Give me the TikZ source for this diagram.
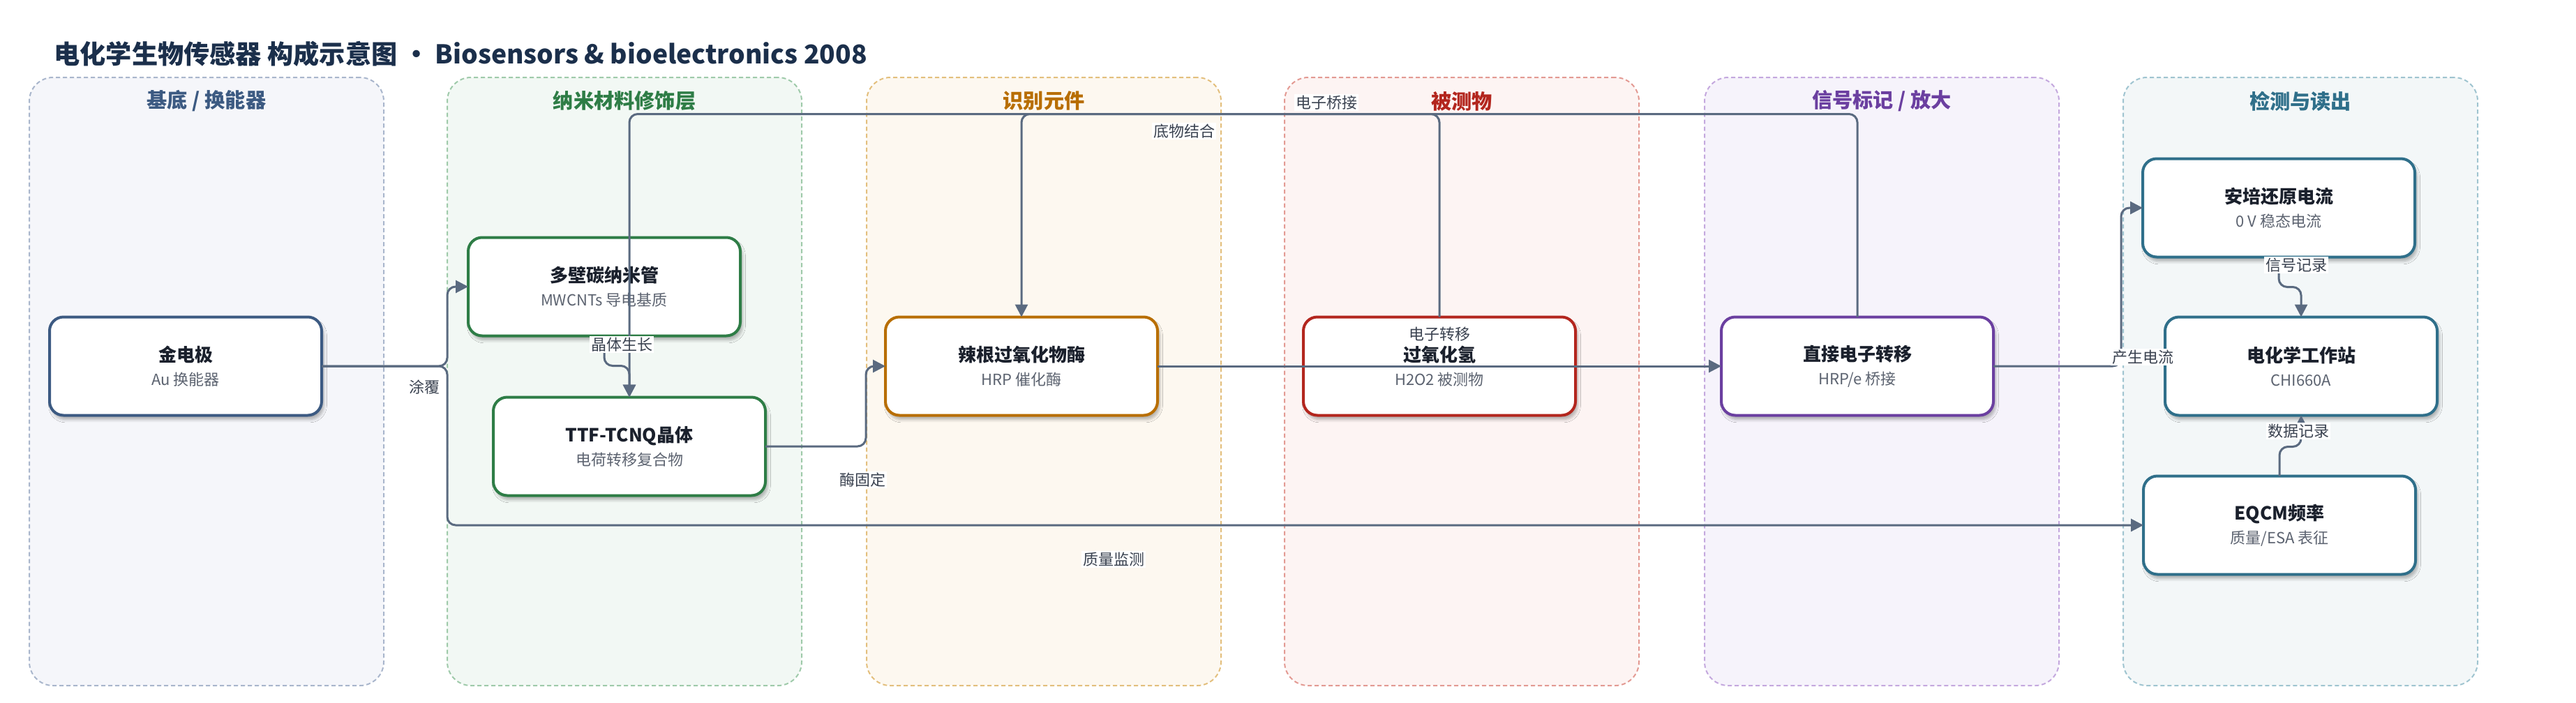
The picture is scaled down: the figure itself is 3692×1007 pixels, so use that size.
\documentclass[tikz,border=0pt]{standalone}
\usepackage{fontspec}
\setmainfont{Noto Sans CJK SC}
\usepackage{tikz}
\usetikzlibrary{positioning,arrows.meta,shadows.blur}

\definecolor{titlenavy}{HTML}{1B2F4B}
\definecolor{edgegrey}{HTML}{5A6A80}
\definecolor{lblgrey}{HTML}{3A4250}
\definecolor{subgrey}{HTML}{5C6370}
\definecolor{darktext}{HTML}{1A202C}
% lane colours
\definecolor{subfill}{HTML}{F5F6FA}\definecolor{subline}{HTML}{A9B6CC}\definecolor{subtext}{HTML}{3C5A82}
\definecolor{nanofill}{HTML}{F2F8F4}\definecolor{nanoline}{HTML}{9FCAAA}\definecolor{nanotext}{HTML}{2E7D46}
\definecolor{recfill}{HTML}{FDF8F0}\definecolor{recline}{HTML}{E3BF7D}\definecolor{rectext}{HTML}{B86E00}
\definecolor{anafill}{HTML}{FDF4F3}\definecolor{analine}{HTML}{E39A93}\definecolor{anatext}{HTML}{B3261E}
\definecolor{sigfill}{HTML}{F6F3FB}\definecolor{sigline}{HTML}{C4A8DE}\definecolor{sigtext}{HTML}{6B3FA0}
\definecolor{detfill}{HTML}{F3F7F8}\definecolor{detline}{HTML}{9FC4D0}\definecolor{dettext}{HTML}{2F6F8A}

\tikzset{
    lane/.style={rectangle,rounded corners=17pt,line width=1pt,dash pattern=on 3pt off 2pt,minimum width=254pt,minimum height=436pt},
    lanetitle/.style={font=\bfseries\fontsize{14.6}{16}\selectfont},
    stage/.style={rectangle,rounded corners=10pt,fill=white,line width=2pt,minimum width=195pt,minimum height=70.5pt,inner sep=0pt,outer sep=0pt,align=center,text=darktext,font=\fontsize{11}{17}\selectfont,blur shadow={shadow xshift=1.5pt,shadow yshift=-3pt,shadow blur steps=6,shadow opacity=30}},
    flow/.style={draw=edgegrey,line width=1.5pt,rounded corners=6pt,-{Triangle[length=9pt,width=9pt]}},
    lbl/.style={fill=white,inner sep=1pt,text=lblgrey,font=\fontsize{11}{13}\selectfont},
}
\newcommand{\stagetext}[2]{{\bfseries\fontsize{13}{16}\selectfont #1}\\{\color{subgrey}#2}}

\begin{document}
\begin{tikzpicture}[x=0.5pt,y=-0.5pt]
\useasboundingbox (0,0) rectangle (3692,1007);
\node[anchor=west,inner sep=0pt,text=titlenavy,font=\bfseries\fontsize{18.6}{22}\selectfont](title) at (77,77) {电化学生物传感器 构成示意图 • Biosensors \& bioelectronics 2008};

% lanes
\node[lane,fill=subfill,draw=subline](lane1) at (296,547) {};
\node[lane,fill=nanofill,draw=nanoline](lane2) at (895,547) {};
\node[lane,fill=recfill,draw=recline](lane3) at (1496,547) {};
\node[lane,fill=anafill,draw=analine](lane4) at (2095,547) {};
\node[lane,fill=sigfill,draw=sigline](lane5) at (2697,547) {};
\node[lane,fill=detfill,draw=detline](lane6) at (3297,547) {};
\node[lanetitle,text=subtext] at (296,145) {基底 / 换能器};
\node[lanetitle,text=nanotext] at (895,145) {纳米材料修饰层};
\node[lanetitle,text=rectext] at (1496,145) {识别元件};
\node[lanetitle,text=anatext] at (2095,145) {被测物};
\node[lanetitle,text=sigtext] at (2697,145) {信号标记 / 放大};
\node[lanetitle,text=dettext] at (3297,145) {检测与读出};

% stages
\node[stage,draw=subtext](au) at (266,525) {\stagetext{金电极}{Au 换能器}};
\node[stage,draw=nanotext](mwcnt) at (866,411) {\stagetext{多壁碳纳米管}{MWCNTs 导电基质}};
\node[stage,draw=nanotext](ttf) at (902,640) {\stagetext{TTF-TCNQ晶体}{电荷转移复合物}};
\node[stage,draw=rectext](hrp) [right =404pt of au] {\stagetext{辣根过氧化物酶}{HRP 催化酶}};
\node[stage,draw=anatext](h2o2) [right =104.5pt of hrp] {\stagetext{过氧化氢}{H2O2 被测物}};
\node[stage,draw=sigtext](det) [right =104.5pt of h2o2] {\stagetext{直接电子转移}{HRP/e 桥接}};
\node[stage,draw=dettext](ecw) [right =123pt of det] {\stagetext{电化学工作站}{CHI660A}};
\node[stage,draw=dettext](amp) at (3266,298) {\stagetext{安培还原电流}{0 V 稳态电流}};
\node[stage,draw=dettext](eqcm) at (3267,753) {\stagetext{EQCM频率}{质量/ESA 表征}};

% connectors
\draw[flow] (au.east) -- ++(180,0) |- (mwcnt.west);
\draw[flow] (au.east) -- ++(180,0) |- (eqcm.west);
\draw[flow] (mwcnt.south) -- ++(0,43) -| (ttf.north);
\draw[flow] (det.north) -- ++(0,-291) -| (ttf.north);
\draw[flow] (h2o2.north) -- ++(0,-291) -| (hrp.north);
\draw[flow] (ttf.east) -- ++(144,0) |- (hrp.west);
\draw[flow] (hrp.east) -- node[lbl,yshift=23pt]{电子转移} (det.west);
\draw[flow] (det.east) -- ++(183,0) |- (amp.west);
\draw[flow] (amp.south) -- ++(0,43) -| (ecw.north);
\draw[flow] (eqcm.north) -- ++(0,-42) -| (ecw.south);

% labels
\node[lbl](coat) at (608,555) {涂覆};
\node[lbl](mass) at (1596,802) {质量监测};
\node[lbl](grow) at (891,494) {晶体生长};
\node[lbl](bridge) at (1901,147) {电子桥接};
\node[lbl](bind) at (1697,188) {底物结合};
\node[lbl](immob) at (1236,688) {酶固定};
\node[lbl](curr) at (3071,512) {产生电流};
\node[lbl](sigrec) at (3291,380) {信号记录};
\node[lbl](datarec) at (3294,618) {数据记录};
\end{tikzpicture}
\end{document}
